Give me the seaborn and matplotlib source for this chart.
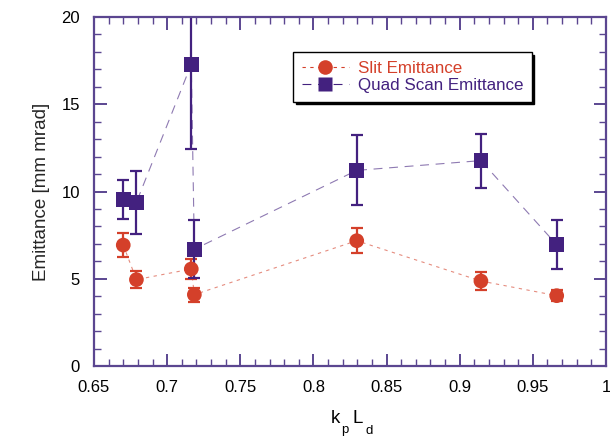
import matplotlib
matplotlib.use("Agg")
import matplotlib.pyplot as plt
from matplotlib.ticker import MultipleLocator
from matplotlib.lines import Line2D
import seaborn as sns
import pandas as pd

# Data
slit_x = [0.670, 0.679, 0.7165, 0.7186, 0.8296, 0.9145, 0.9663]
slit_y = [6.93, 4.95, 5.56, 4.09, 7.18, 4.87, 4.03]
slit_err = [0.7, 0.5, 0.6, 0.4, 0.7, 0.5, 0.3]

quad_x = [0.670, 0.679, 0.7165, 0.7186, 0.8296, 0.9145, 0.9663]
quad_y = [9.55, 9.38, 17.29, 6.69, 11.21, 11.77, 6.95]
quad_err = [1.1, 1.8, 4.85, 1.65, 2.0, 1.55, 1.4]

series_names = ["Slit Emittance", "Quad Scan Emittance"]
x_ticks = [0.65, 0.7, 0.75, 0.8, 0.85, 0.9, 0.95, 1.0]
x_tick_labels = ["0.65", "0.7", "0.75", "0.8", "0.85", "0.9", "0.95", "1"]

RED = "#D4402A"
PURPLE = "#43217F"
SPINE = "#5B4690"

W, H = 610, 437

sns.set_theme(style="white")
plt.rcParams["font.family"] = ["Liberation Sans", "DejaVu Sans"]

df_s = pd.DataFrame({"x": slit_x, "y": slit_y})
df_q = pd.DataFrame({"x": quad_x, "y": quad_y})

fig = plt.figure(figsize=(W / 100, H / 100), dpi=100)
ax = fig.add_axes([94 / W, 1 - 366 / H, 512 / W, 349 / H])

# connecting lines
sns.lineplot(data=df_s, x="x", y="y", sort=False, ax=ax, color=RED,
             linewidth=0.8, alpha=0.6, zorder=1)
ax.lines[-1].set_dashes([3, 4])
sns.lineplot(data=df_q, x="x", y="y", sort=False, ax=ax, color=PURPLE,
             linewidth=0.8, alpha=0.6, zorder=1)
ax.lines[-1].set_dashes([8, 6])

# error bars
ax.errorbar(slit_x, slit_y, yerr=slit_err, fmt="none", ecolor=RED,
            elinewidth=1.6, capsize=4.5, capthick=1.6, zorder=2)
ax.errorbar(quad_x, quad_y, yerr=quad_err, fmt="none", ecolor=PURPLE,
            elinewidth=1.6, capsize=4.5, capthick=1.6, zorder=2)

# markers
sns.scatterplot(data=df_s, x="x", y="y", ax=ax, color=RED, marker="o",
                s=112, edgecolor="none", zorder=3)
sns.scatterplot(data=df_q, x="x", y="y", ax=ax, color=PURPLE, marker="s",
                s=112, edgecolor="none", zorder=3)

ax.set_xlim(0.65, 1.0)
ax.set_ylim(0, 20)
ax.xaxis.set_minor_locator(MultipleLocator(0.01))
ax.yaxis.set_major_locator(MultipleLocator(5))
ax.yaxis.set_minor_locator(MultipleLocator(1))
ax.set_xticks(x_ticks)
ax.set_xticklabels(x_tick_labels)

for sp in ax.spines.values():
    sp.set_color(SPINE)
    sp.set_linewidth(1.6)

ax.tick_params(which="both", direction="in", top=True, right=True,
               bottom=True, left=True, color=SPINE, labelsize=12,
               labelcolor="black")
ax.tick_params(which="major", length=9, width=1.4, pad=10)
ax.tick_params(which="minor", length=5, width=1.0)

ax.set_xlabel("")
ax.set_ylabel("Emittance [mm mrad]", fontsize=13.5, labelpad=8)

# x label: k_p L_d with low subscripts
def ftext(px, py, s, size):
    fig.text(px / W, 1 - py / H, s, fontsize=size, ha="left", va="baseline",
             color="black")

ftext(331, 423, "k", 13.5)
ftext(341, 433.5, "p", 9.5)
ftext(353, 423, "L", 13.5)
ftext(365, 433.5, "d", 9.5)

handles = [
    Line2D([0], [0], color=RED, linestyle=(0, (3, 4)), linewidth=0.8,
           marker="o", markersize=10.5, markeredgecolor="none"),
    Line2D([0], [0], color=PURPLE, linestyle=(0, (8, 6)), linewidth=0.8,
           marker="s", markersize=10.5, markeredgecolor="none"),
]
leg = ax.legend(handles, series_names, loc="upper left",
                bbox_to_anchor=((293 - 94) / 512, (366 - 52) / 349),
                frameon=True, fancybox=False,
                shadow={"color": "black", "alpha": 1.0}, edgecolor="black",
                fontsize=12.25, handlelength=2.8, borderpad=0.5,
                labelspacing=0.15, handletextpad=0.5, borderaxespad=0)
leg.get_frame().set_linewidth(1.0)
for t, c in zip(leg.get_texts(), [RED, PURPLE]):
    t.set_color(c)

fig.savefig("out.png", dpi=100)
